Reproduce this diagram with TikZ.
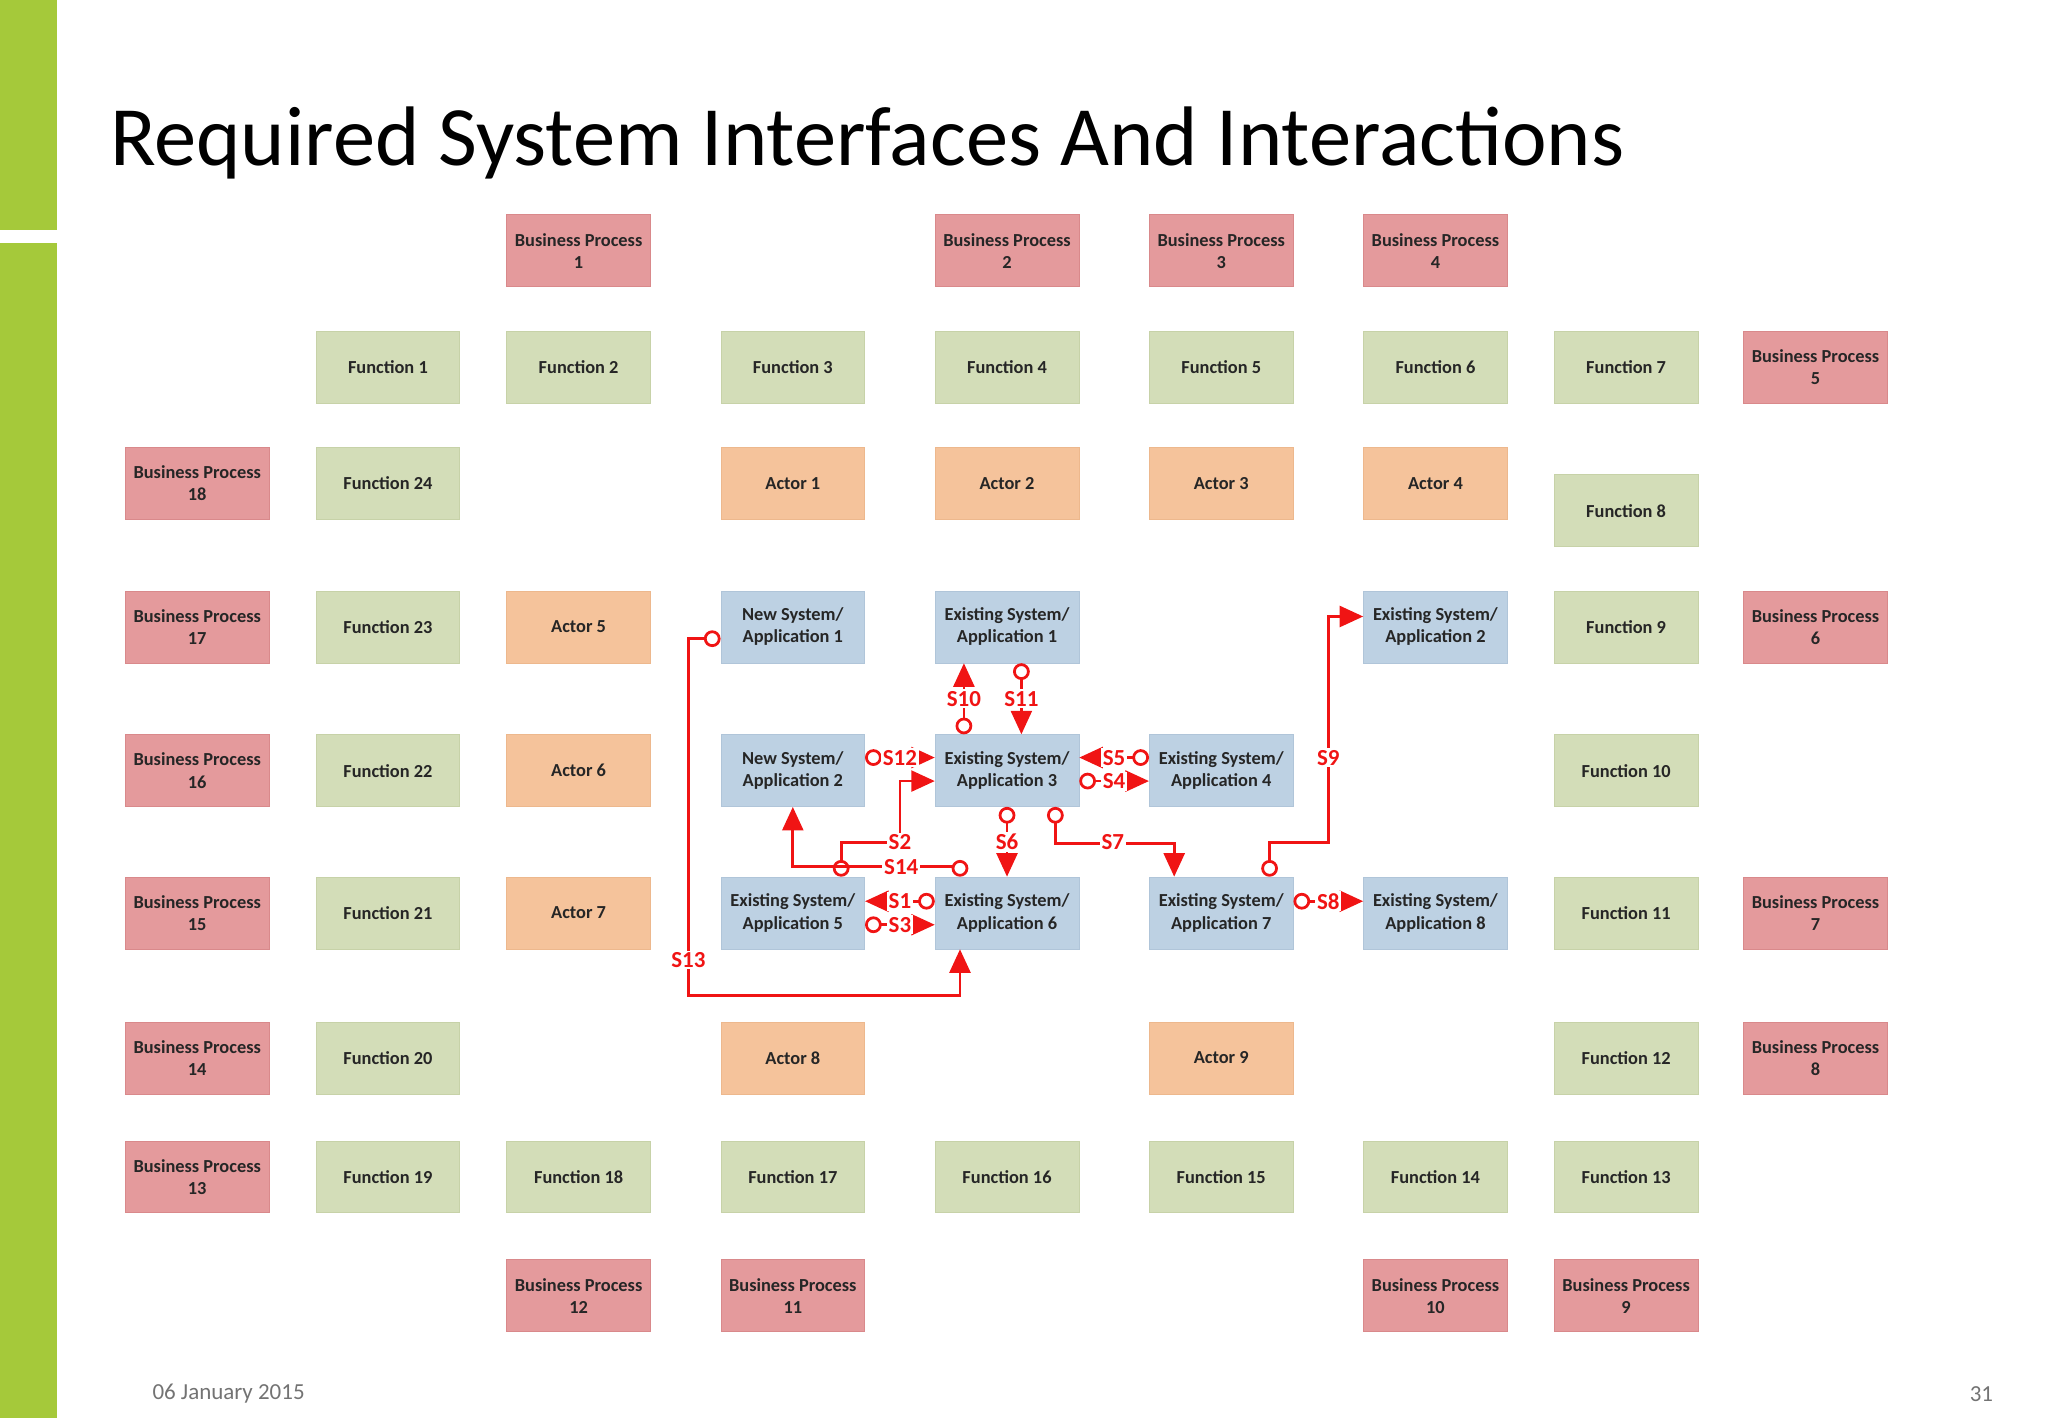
\documentclass[tikz,border=0pt]{standalone}
\usepackage{fontspec}
\setmainfont{Carlito}
\usetikzlibrary{arrows.meta,positioning}

\definecolor{bpfill}{HTML}{E49A9C}
\definecolor{bpdraw}{HTML}{D9898B}
\definecolor{fnfill}{HTML}{D3DDB8}
\definecolor{fndraw}{HTML}{C7D2A8}
\definecolor{acfill}{HTML}{F5C39B}
\definecolor{acdraw}{HTML}{EDB88D}
\definecolor{sysfill}{HTML}{BDD1E3}
\definecolor{sysdraw}{HTML}{B0C5D9}
\definecolor{barcol}{HTML}{A5C93A}
\definecolor{sigred}{HTML}{F01414}

\tikzset{
  box/.style={minimum width=2.75cm,minimum height=1.375cm,align=center,
    font=\fontsize{10}{12}\selectfont\bfseries,text=black!85,inner sep=1pt},
  bp/.style={box,fill=bpfill,draw=bpdraw},
  fn/.style={box,fill=fnfill,draw=fndraw},
  actor/.style={box,fill=acfill,draw=acdraw},
  sys/.style={box,fill=sysfill,draw=sysdraw},
  sig/.style={draw=sigred,line width=1.5pt,
    {Circle[open,length=.32cm,width=.32cm,fill=white]}-{Triangle[length=.45cm,width=.4cm]}},
  lbl/.style={text=sigred,fill=white,inner sep=1pt,font=\fontsize{12.5}{14}\selectfont\bfseries}
}

\begin{document}
\begin{tikzpicture}[x=0.025cm,y=-0.025cm]
	\useasboundingbox (0,0) rectangle (1568,1086);

	\begin{scope} % side bar and title
		\fill[barcol] (0,0) rectangle (44,176);
		\fill[barcol] (0,186) rectangle (44,1086);
		\node[anchor=base west,inner sep=0,font=\fontsize{46}{50}\selectfont] (title) at (84,127) {Required System Interfaces And Interactions};
		\node[text=black!55,font=\fontsize{12.5}{14}\selectfont] (date) at (175,1067) {06 January 2015};
		\node[text=black!55,font=\fontsize{12.5}{14}\selectfont] (page) at (1517,1067) {31};
	\end{scope}

	\begin{scope} % business processes
		\node[bp] (bp1) at (443,192) {Business Process\\1};
		\node[bp] (bp2) at (771,192) {Business Process\\2};
		\node[bp] (bp3) at (935,192) {Business Process\\3};
		\node[bp] (bp4) at (1099,192) {Business Process\\4};
		\node[bp] (bp5) at (1390,281) {Business Process\\5};
		\node[bp] (bp6) at (1390,480) {Business Process\\6};
		\node[bp] (bp7) at (1390,699) {Business Process\\7};
		\node[bp] (bp8) at (1390,810) {Business Process\\8};
		\node[bp] (bp9) at (1245,992) {Business Process\\9};
		\node[bp] (bp10) at (1099,992) {Business Process\\10};
		\node[bp] (bp11) at (607,992) {Business Process\\11};
		\node[bp] (bp12) at (443,992) {Business Process\\12};
		\node[bp] (bp13) at (151,901) {Business Process\\13};
		\node[bp] (bp14) at (151,810) {Business Process\\14};
		\node[bp] (bp15) at (151,699) {Business Process\\15};
		\node[bp] (bp16) at (151,590) {Business Process\\16};
		\node[bp] (bp17) at (151,480) {Business Process\\17};
		\node[bp] (bp18) at (151,370) {Business Process\\18};
	\end{scope}

	\begin{scope} % functions
		\foreach \n/\x in {1/297,2/443,3/607,4/771,5/935,6/1099,7/1245}
			\node[fn] (f\n) at (\x,281) {Function \n};
		\node[fn] (f8) at (1245,391) {Function 8};
		\node[fn] (f9) at (1245,480) {Function 9};
		\node[fn] (f10) at (1245,590) {Function 10};
		\node[fn] (f11) at (1245,699) {Function 11};
		\node[fn] (f12) at (1245,810) {Function 12};
		\foreach \n/\x in {13/1245,14/1099,15/935,16/771,17/607,18/443,19/297}
			\node[fn] (f\n) at (\x,901) {Function \n};
		\node[fn] (f20) at (297,810) {Function 20};
		\node[fn] (f21) at (297,699) {Function 21};
		\node[fn] (f22) at (297,590) {Function 22};
		\node[fn] (f23) at (297,480) {Function 23};
		\node[fn] (f24) at (297,370) {Function 24};
	\end{scope}

	\begin{scope} % actors
		\foreach \n/\x in {1/607,2/771,3/935,4/1099}
			\node[actor] (act\n) at (\x,370) {Actor \n};
		\node[actor] (act5) at (443,480) {Actor 5};
		\node[actor] (act6) at (443,590) {Actor 6};
		\node[actor] (act7) at (443,699) {Actor 7};
		\node[actor] (act8) at (607,810) {Actor 8};
		\node[actor] (act9) at (935,810) {Actor 9};
	\end{scope}

	\begin{scope} % systems
		\node[sys] (ns1) at (607,480) {New System/\\Application 1};
		\node[sys] (ns2) at (607,590) {New System/\\Application 2};
		\node[sys] (es1) at (771,480) {Existing System/\\Application 1};
		\node[sys] (es2) at (1099,480) {Existing System/\\Application 2};
		\node[sys] (es3) at (771,590) {Existing System/\\Application 3};
		\node[sys] (es4) at (935,590) {Existing System/\\Application 4};
		\node[sys] (es5) at (607,699) {Existing System/\\Application 5};
		\node[sys] (es6) at (771,699) {Existing System/\\Application 6};
		\node[sys] (es7) at (935,699) {Existing System/\\Application 7};
		\node[sys] (es8) at (1099,699) {Existing System/\\Application 8};
	\end{scope}

	\coordinate (s2a) at (689,645);
	\coordinate (s9a) at (1017,645);
	\coordinate (s13a) at (527,762);

	\begin{scope} % interfaces
		\draw[sig] ([yshift=.225cm]es6.west) -- node[lbl]{S1} ([yshift=.225cm]es5.east);
		\draw[sig] ([xshift=.925cm]es5.north) |- (s2a) |- ([yshift=-.2cm]es3.west);
		\node[lbl] at (s2a) {S2};
		\draw[sig] ([yshift=-.225cm]es5.east) -- node[lbl]{S3} ([yshift=-.225cm]es6.west);
		\draw[sig] ([yshift=-.2cm]es3.east) -- node[lbl]{S4} ([yshift=-.2cm]es4.west);
		\draw[sig] ([yshift=.25cm]es4.west) -- node[lbl]{S5} ([yshift=.25cm]es3.east);
		\draw[sig] (es3.south) -- node[lbl]{S6} (es6.north);
		\draw[sig] ([xshift=.925cm]es3.south) -- ++(0,-.7cm) -| ([xshift=-.9cm]es7.north);
		\node[lbl] at (852,645) {S7};
		\draw[sig] ([yshift=.225cm]es7.east) -- node[lbl]{S8} ([yshift=.225cm]es8.west);
		\draw[sig] ([xshift=.925cm]es7.north) |- (s9a) |- ([yshift=.2cm]es2.west);
		\node[lbl] at (1017,580) {S9};
		\draw[sig] ([xshift=-.825cm]es3.north) -- node[lbl]{S10} ([xshift=-.825cm]es1.south);
		\draw[sig] ([xshift=.275cm]es1.south) -- node[lbl]{S11} ([xshift=.275cm]es3.north);
		\draw[sig] ([yshift=.25cm]ns2.east) -- node[lbl]{S12} ([yshift=.25cm]es3.west);
		\draw[sig] ([yshift=-.225cm]ns1.west) -| (s13a) -| ([xshift=-.9cm]es6.south);
		\node[lbl] at (527,735) {S13};
		\draw[sig] ([xshift=-.9cm]es6.north) -- ++(0,.2cm) -| (ns2.south);
		\node[lbl] at (690,664) {S14};
	\end{scope}
\end{tikzpicture}
\end{document}
